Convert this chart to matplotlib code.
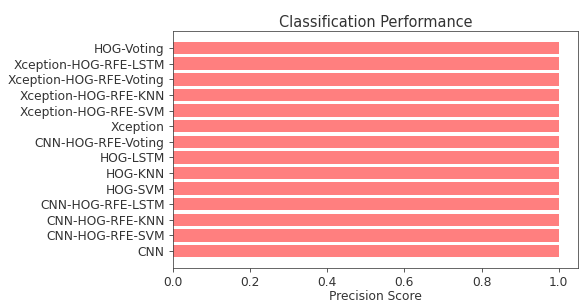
import matplotlib
matplotlib.use("Agg")
import matplotlib.pyplot as plt

models = ["CNN", "CNN-HOG-RFE-SVM", "CNN-HOG-RFE-KNN", "CNN-HOG-RFE-LSTM",
          "HOG-SVM", "HOG-KNN", "HOG-LSTM", "CNN-HOG-RFE-Voting", "Xception",
          "Xception-HOG-RFE-SVM", "Xception-HOG-RFE-KNN",
          "Xception-HOG-RFE-Voting", "Xception-HOG-RFE-LSTM", "HOG-Voting"]
precision = [1.0, 1.0, 1.0, 1.0, 1.0, 1.0, 1.0, 1.0, 1.0, 1.0, 1.0, 1.0, 1.0, 1.0]
xticks = [0.0, 0.2, 0.4, 0.6, 0.8, 1.0]

fig = plt.figure(figsize=(581/72, 304/72), dpi=72)
ax = fig.add_axes([0.2978, 0.118, 0.697, 0.78])
ax.barh(models, precision, color="red", alpha=0.5, height=0.8)
ax.set_xticks(xticks)
ax.set_xlabel("Precision Score", fontsize=12.3, labelpad=1, color="#333333")
ax.set_title("Classification Performance", fontsize=14.5, pad=4, color="#333333")
ax.tick_params(labelsize=12.3, colors="#333333", length=4.3, pad=4)
for s in ax.spines.values():
    s.set_color("#444444")
fig.savefig("out.png", dpi=72)
